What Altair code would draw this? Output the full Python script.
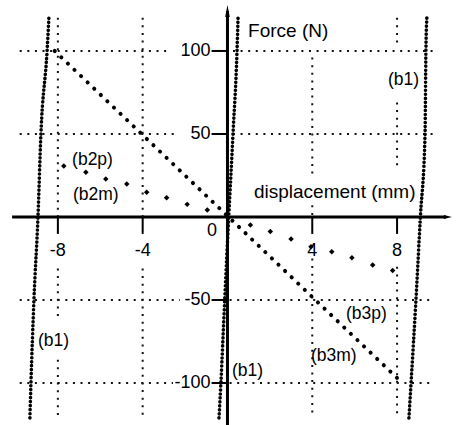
import altair as alt
import pandas as pd

# Scale extents: displacement (mm) across, force (N) up
X_DOMAIN = [-10.73, 10.78]
Y_DOMAIN = [-125.3, 130.7]

# (b1) stiff branches, displacement read along the force
b1_force = [-121, -100, -50, 0, 50, 100, 121]
b1_left_disp = [-9.32, -9.27, -9.13, -8.94, -8.80, -8.51, -8.42]
b1_mid_disp = [-0.40, -0.31, -0.13, 0.06, 0.26, 0.45, 0.50]
b1_right_disp = [8.56, 8.66, 8.89, 9.10, 9.32, 9.36, 9.41]

# (b2m)/(b3m) steep branch
steep_disp = [-8.15, 8.25]
steep_force = [100, -100]

# (b2p)/(b3p) soft branch, individual samples
soft_disp = [-7.72, -6.68, -5.74, -4.75, -3.81, -2.87, -1.90, -0.95,
             1.08, 2.02, 3.00, 3.94, 4.92, 5.87, 6.85, 7.79]
soft_force = [30.7, 27.0, 22.9, 19.9, 14.9, 11.6, 7.6, 4.2,
              -4.8, -8.8, -13.3, -17.9, -20.9, -24.5, -28.9, -32.3]

# ticks
x_ticks = [-8, -4, 4, 8]
y_ticks = [-100, -50, 50, 100]

# dotted grid, split where labels sit on it
vgrid_x = [-8, -8, -8, -4, -4, 4, 4, 4, 8, 8, 8]
vgrid_y1 = [120, -31, -86, 120, -31, 96, 7, -25, 120, 69, -30]
vgrid_y2 = [0.5, -60, -120, 0.5, -120, 25, 0.5, -120, 104, 30, -120]

hgrid_y = [100, 100, 50, 50, -50, -50, -100, -100]
hgrid_x1 = [-9.8, 0.26, -9.8, 0.26, -9.8, 0.1, -9.8, 0.1]
hgrid_x2 = [-2.7, 9.74, -2.48, 9.74, -2.24, 9.74, -2.57, 9.74]

# axis titles (left edge, vertical middle)
title_text = ["Force (N)", "displacement (mm)"]
title_x = [0.97, 1.25]
title_y = [112.0, 15.1]

# curve labels (left edge, vertical middle)
note_text = ["(b1)", "(b2p)", "(b2m)", "(b1)", "(b1)", "(b3p)", "(b3m)"]
note_x = [7.57, -7.33, -7.29, -8.94, 0.21, 5.59, 3.94]
note_y = [82.5, 34.3, 13.3, -74.7, -92.8, -58.4, -83.7]

FONT = "Liberation Sans"
INK = "#000000"

xs = alt.Scale(domain=X_DOMAIN, nice=False, zero=False)
ys = alt.Scale(domain=Y_DOMAIN, nice=False, zero=False)


def X(field="x"):
    return alt.X(f"{field}:Q", scale=xs, axis=None)


def Y(field="y"):
    return alt.Y(f"{field}:Q", scale=ys, axis=None)


vgrid = pd.DataFrame({"x": vgrid_x, "y": vgrid_y1, "y2": vgrid_y2})
hgrid = pd.DataFrame({"y": hgrid_y, "x": hgrid_x1, "x2": hgrid_x2})

grid_style = dict(color="#111111", strokeWidth=2, strokeDash=[2, 5.6])
vgrid_layer = alt.Chart(vgrid).mark_rule(**grid_style).encode(
    x=X(), y=Y(), y2="y2:Q")
hgrid_layer = alt.Chart(hgrid).mark_rule(**grid_style).encode(
    y=Y(), x=X(), x2="x2:Q")

# (b1) branches as dense dotted curves
b1_rows = []
for name, disp in (("left", b1_left_disp), ("mid", b1_mid_disp),
                   ("right", b1_right_disp)):
    for i, (d, f) in enumerate(zip(disp, b1_force)):
        b1_rows.append({"branch": name, "x": d, "y": f, "order": i})
b1 = pd.DataFrame(b1_rows)
b1_layer = alt.Chart(b1).mark_line(
    color=INK, strokeWidth=3.6, strokeCap="round", strokeDash=[0.1, 3.9],
    interpolate="monotone"
).encode(x=X(), y=Y(), detail="branch:N", order="order:Q")

steep = pd.DataFrame({"x": steep_disp, "y": steep_force})
steep_layer = alt.Chart(steep).mark_line(
    color=INK, strokeWidth=4.0, strokeCap="round", strokeDash=[0.1, 9.0]
).encode(x=X(), y=Y())

soft = pd.DataFrame({"x": soft_disp, "y": soft_force})
soft_layer = alt.Chart(soft).mark_point(
    shape="diamond", filled=True, size=30, color=INK, opacity=1
).encode(x=X(), y=Y())

# axes through the origin
axis_df = pd.DataFrame({"x": [-10.16], "x2": [10.3], "y": [0]})
x_axis = alt.Chart(axis_df).mark_rule(color=INK, strokeWidth=3).encode(
    x=X(), x2="x2:Q", y=Y())
yaxis_df = pd.DataFrame({"x": [0], "y": [-126], "y2": [124]})
y_axis = alt.Chart(yaxis_df).mark_rule(color=INK, strokeWidth=3).encode(
    x=X(), y=Y(), y2="y2:Q")

x_arrow = alt.Chart(pd.DataFrame({"x": [10.4], "y": [0]})).mark_point(
    shape="M1,0L-1,-0.5L-1,0.5Z", filled=True, size=64, color=INK, opacity=1
).encode(x=X(), y=Y())
y_arrow = alt.Chart(pd.DataFrame({"x": [0], "y": [124]})).mark_point(
    shape="M0,-1L0.38,1L-0.38,1Z", filled=True, size=144, color=INK, opacity=1
).encode(x=X(), y=Y())

# tick marks
xt = pd.DataFrame({"x": x_ticks, "y": [0] * 4, "y2": [-10.2] * 4})
xtick_layer = alt.Chart(xt).mark_rule(color=INK, strokeWidth=2).encode(
    x=X(), y=Y(), y2="y2:Q")
yt = pd.DataFrame({"y": y_ticks, "x": [0] * 4, "x2": [-0.75] * 4})
ytick_layer = alt.Chart(yt).mark_rule(color=INK, strokeWidth=2).encode(
    y=Y(), x=X(), x2="x2:Q")

# tick labels
xl = pd.DataFrame({"x": x_ticks, "y": [0] * 4,
                   "t": [str(v) for v in x_ticks]})
xlab_layer = alt.Chart(xl).mark_text(
    font=FONT, fontSize=18, color=INK, align="center", baseline="middle",
    dy=34
).encode(x=X(), y=Y(), text="t:N")
yl = pd.DataFrame({"y": y_ticks, "x": [0] * 4,
                   "t": [str(v) for v in y_ticks]})
ylab_layer = alt.Chart(yl).mark_text(
    font=FONT, fontSize=18, color=INK, align="right", baseline="middle",
    dx=-17
).encode(x=X(), y=Y(), text="t:N")
zero_layer = alt.Chart(pd.DataFrame({"x": [-0.73], "y": [-8.4],
                                     "t": ["0"]})).mark_text(
    font=FONT, fontSize=18, color=INK, align="center", baseline="middle"
).encode(x=X(), y=Y(), text="t:N")

titles = pd.DataFrame({"x": title_x, "y": title_y, "t": title_text})
title_layer = alt.Chart(titles).mark_text(
    font=FONT, fontSize=19, color=INK, align="left", baseline="middle"
).encode(x=X(), y=Y(), text="t:N")

notes = pd.DataFrame({"x": note_x, "y": note_y, "t": note_text})
note_layer = alt.Chart(notes).mark_text(
    font=FONT, fontSize=17.5, color=INK, align="left", baseline="middle"
).encode(x=X(), y=Y(), text="t:N")

chart = alt.layer(
    vgrid_layer, hgrid_layer, b1_layer, steep_layer, soft_layer,
    x_axis, y_axis, x_arrow, y_arrow, xtick_layer, ytick_layer,
    xlab_layer, ylab_layer, zero_layer, title_layer, note_layer
).properties(
    width=456, height=425, padding=0,
    autosize=alt.AutoSizeParams(type="none"),
    background="white"
).configure_view(strokeWidth=0)

chart.save("out.html", embed_options={"renderer": "svg", "actions": False})
